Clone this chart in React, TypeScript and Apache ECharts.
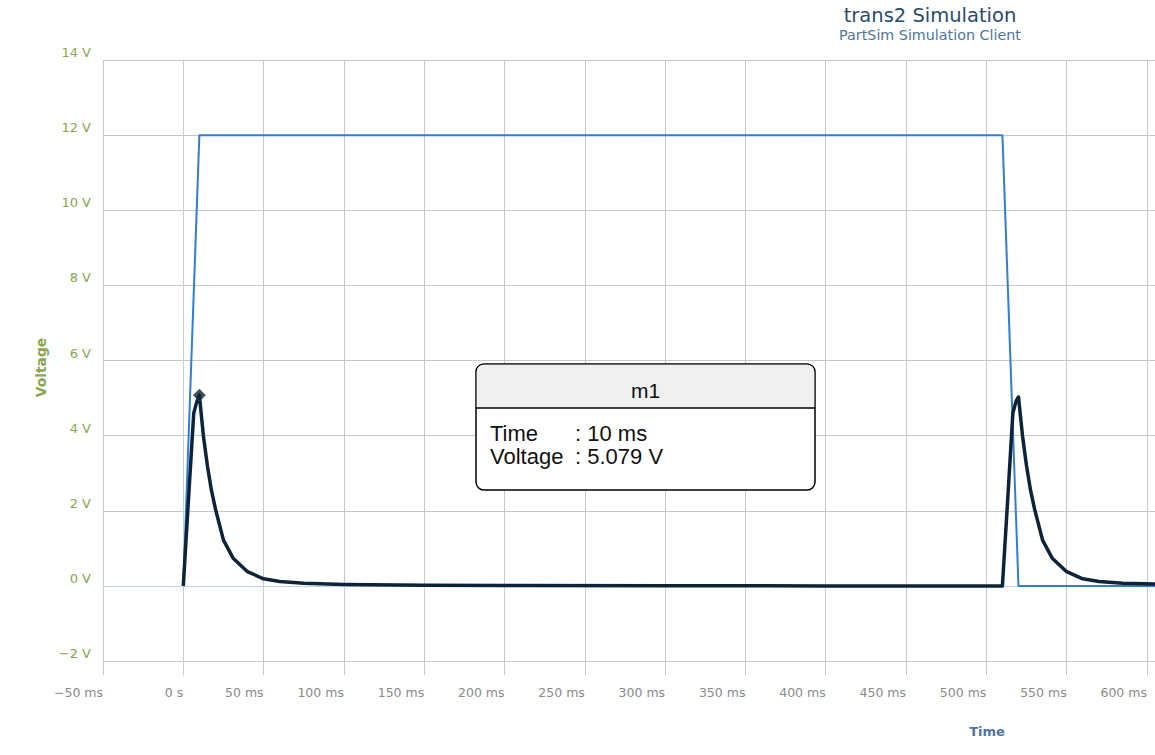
import React, { useEffect, useRef } from "react";
import * as echarts from "echarts";

// ---- data ----
const xTicks = [-50, 0, 50, 100, 150, 200, 250, 300, 350, 400, 450, 500, 550, 600];
const yTicks = [-2, 0, 2, 4, 6, 8, 10, 12, 14];

// input pulse (blue)
const pulseTime = [0, 10, 510, 520, 605];
const pulseVolt = [0, 12, 12, 0, 0];

// response (dark)
const respTime = [
  0, 3, 6.5, 8.5, 10, 12.5, 15, 17.5, 20, 25, 31, 40, 50, 60, 75, 100, 150, 200, 300, 400, 510,
  513, 516.5, 518.5, 520, 522.5, 525, 527.5, 530, 535, 541, 550, 560, 570, 585, 605,
];
const respVolt = [
  0, 2.15, 4.6, 4.92, 5.079, 4.0, 3.2, 2.55, 2.05, 1.22, 0.74, 0.38, 0.19, 0.12, 0.07, 0.04, 0.02, 0.01, 0.005, 0.002, 0,
  2.1, 4.6, 4.92, 5.03, 4.0, 3.2, 2.55, 2.05, 1.22, 0.74, 0.38, 0.19, 0.12, 0.07, 0.05,
];

// marker
const markerName = "m1";
const markerTime = 10;
const markerVolt = 5.079;

const MINUS = "\u2212";
const fmtX = (v: number) => (v === 0 ? "0 s" : (v < 0 ? MINUS + Math.abs(v) : String(v)) + " ms");
const fmtY = (v: number) => (v < 0 ? MINUS + Math.abs(v) : String(v)) + " V";

const FONT = "DejaVu Sans";
const BOXFONT = "Liberation Sans";

export default function App() {
  const ref = useRef<HTMLDivElement>(null);

  useEffect(() => {
    if (!ref.current) return;
    const chart = echarts.init(ref.current, undefined, { renderer: "svg" });
    const pulse = pulseTime.map((t, i) => [t, pulseVolt[i]]);
    const resp = respTime.map((t, i) => [t, respVolt[i]]);

    const boxText = (text: string, x: number, y: number, align: string, size: number) => ({
      type: "text",
      x,
      y,
      z: 103,
      style: {
        text,
        align,
        verticalAlign: "middle",
        fontFamily: BOXFONT,
        fontSize: size,
        fill: "#111111",
      },
    });

    const option: any = {
      animation: false,
      backgroundColor: "#ffffff",
      title: {
        text: "trans2 Simulation",
        subtext: "PartSim Simulation Client",
        left: 930,
        top: 0,
        textAlign: "center",
        padding: [5, 0, 0, 0],
        itemGap: 3,
        textStyle: { fontFamily: FONT, fontSize: 19.5, fontWeight: "normal", color: "#274b6d" },
        subtextStyle: { fontFamily: FONT, fontSize: 14.3, color: "#4d759e" },
      },
      grid: { left: 103, right: 0, top: 60, bottom: 80, containLabel: false },
      xAxis: {
        type: "value",
        min: -50,
        max: 605,
        name: "Time",
        nameLocation: "middle",
        nameGap: 50,
        nameTextStyle: {
          fontFamily: FONT,
          fontSize: 13,
          fontWeight: "bold",
          color: "#4d759e",
          padding: [0, 0, 0, 716],
        },
        axisLine: { show: true, lineStyle: { color: "#C0D0E0", width: 1 } },
        axisTick: { show: true, length: 8, lineStyle: { color: "#C0D0E0" }, customValues: xTicks },
        axisLabel: {
          customValues: xTicks,
          formatter: fmtX,
          align: "right",
          margin: 11,
          fontFamily: FONT,
          fontSize: 12.5,
          color: "#8a8a8a",
        },
        splitLine: { show: true, lineStyle: { color: "#C8C8C8", width: 1 } },
      },
      yAxis: {
        type: "value",
        min: -2.37,
        max: 14,
        name: "Voltage",
        nameLocation: "middle",
        nameGap: 55,
        nameRotate: 90,
        nameTextStyle: { fontFamily: FONT, fontSize: 13.8, fontWeight: "bold", color: "#89A54E" },
        axisLine: { show: true, lineStyle: { color: "#C0D0E0", width: 1 } },
        axisTick: { show: false, customValues: yTicks },
        axisLabel: {
          customValues: yTicks,
          formatter: fmtY,
          margin: 12,
          verticalAlign: "bottom",
          padding: [0, 0, 1, 0],
          fontFamily: FONT,
          fontSize: 13,
          color: "#89A54E",
        },
        splitLine: { show: true, lineStyle: { color: "#C8C8C8", width: 1 } },
      },
      series: [
        {
          type: "line",
          data: pulse,
          showSymbol: false,
          lineStyle: { color: "#2f7ed8", width: 2 },
          itemStyle: { color: "#2f7ed8" },
          z: 2,
        },
        {
          type: "line",
          data: resp,
          showSymbol: false,
          lineStyle: { color: "#0d233a", width: 3.5, join: "round" },
          itemStyle: { color: "#0d233a" },
          z: 3,
        },
        {
          type: "scatter",
          data: [[markerTime, markerVolt]],
          symbol: "diamond",
          symbolSize: 12,
          itemStyle: { color: "#0d233a", borderColor: "#444", borderWidth: 1 },
          z: 4,
        },
      ],
      graphic: [
        {
          type: "group",
          x: 476,
          y: 364,
          z: 100,
          children: [
            {
              type: "rect",
              z: 100,
              shape: { x: 0, y: 0, width: 339, height: 126, r: 8 },
              style: { fill: "#ffffff", stroke: "#000000", lineWidth: 1.5 },
            },
            {
              type: "rect",
              z: 101,
              shape: { x: 0.75, y: 0.75, width: 337.5, height: 43, r: [7, 7, 0, 0] },
              style: { fill: "#f0f0f0" },
            },
            {
              type: "line",
              z: 102,
              shape: { x1: 0, y1: 44, x2: 339, y2: 44 },
              style: { stroke: "#000000", lineWidth: 1.5 },
            },
            boxText(markerName, 169.5, 26, "center", 21),
            boxText("Time", 14, 69, "left", 22),
            boxText(": " + markerTime + " ms", 99, 69, "left", 22),
            boxText("Voltage", 14, 92.5, "left", 22),
            boxText(": " + markerVolt + " V", 99, 92.5, "left", 22),
          ],
        },
      ],
    };

    chart.setOption(option);
    return () => chart.dispose();
  }, []);

  return (
    <div
      ref={ref}
      style={{ position: "fixed", left: 0, top: 0, width: 1155, height: 755, background: "#fff" }}
    />
  );
}
